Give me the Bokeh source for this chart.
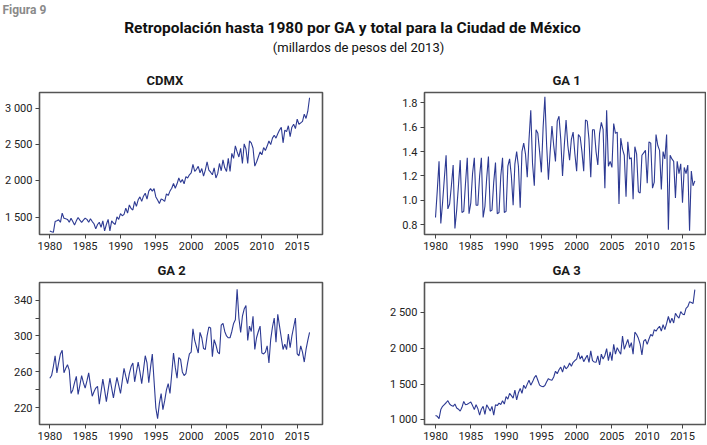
from bokeh.plotting import figure
from bokeh.layouts import column, row
from bokeh.models import Range1d, FixedTicker, Label
from bokeh.embed import file_html
from bokeh.resources import INLINE

# ---------------- data (quarterly, 1980Q1 .. 2016Q4) ----------------
quarters = [1980 + i / 4 for i in range(148)]

cdmx = [
    1311, 1300, 1292, 1440, 1450, 1464, 1430, 1556, 1486, 1478, 1470, 1430,
    1486, 1440, 1394, 1450, 1496, 1460, 1430, 1460, 1486, 1470, 1430, 1480,
    1440, 1410, 1339, 1400, 1430, 1360, 1450, 1312, 1400, 1470, 1312, 1450,
    1420, 1400, 1505, 1470, 1550, 1520, 1540, 1625, 1556, 1670, 1620, 1600,
    1718, 1650, 1740, 1780, 1718, 1790, 1830, 1750, 1860, 1894, 1860, 1894,
    1780, 1736, 1690, 1750, 1740, 1718, 1820, 1800, 1860, 1900, 1965, 1900,
    1960, 2040, 1980, 2020, 1960, 2060, 2040, 2085, 2111, 2228, 2130, 2160,
    2200, 2111, 2170, 2065, 2150, 2264, 2150, 2120, 2085, 2180, 2040, 2100,
    2240, 2140, 2290, 2180, 2130, 2310, 2130, 2380, 2310, 2482, 2400, 2330,
    2450, 2240, 2510, 2440, 2240, 2550, 2525, 2450, 2204, 2260, 2330, 2400,
    2360, 2460, 2420, 2480, 2550, 2500, 2590, 2630, 2590, 2650, 2700, 2740,
    2525, 2700, 2680, 2760, 2610, 2740, 2780, 2720, 2850, 2780, 2800, 2820,
    2920, 2860, 2960, 3145,
]

ga1 = [
    0.86, 1.08, 1.32, 0.81, 0.98, 1.18, 1.37, 0.93, 0.97, 1.12, 1.29, 0.77,
    0.92, 1.12, 1.33, 0.90, 0.91, 1.14, 1.35, 0.89, 0.98, 1.22, 1.35, 0.96,
    0.96, 1.20, 1.35, 0.86, 0.95, 1.18, 1.36, 0.91, 0.92, 1.15, 1.31, 0.89,
    0.90, 1.20, 1.35, 0.90, 0.91, 1.28, 1.34, 1.20, 0.96, 1.30, 1.40, 1.28,
    0.94, 1.40, 1.47, 1.38, 1.19, 1.50, 1.74, 1.30, 1.12, 1.58, 1.55, 1.40,
    1.23, 1.60, 1.85, 1.45, 1.17, 1.40, 1.61, 1.45, 1.32, 1.65, 1.69, 1.50,
    1.20, 1.45, 1.66, 1.45, 1.33, 1.50, 1.56, 1.38, 1.24, 1.54, 1.52, 1.40,
    1.24, 1.66, 1.65, 1.50, 1.19, 1.58, 1.58, 1.40, 1.29, 1.55, 1.64, 1.58,
    1.10, 1.74, 1.28, 1.32, 1.27, 1.63, 1.55, 1.56, 0.97, 1.51, 1.42, 1.37,
    1.03, 1.48, 1.34, 1.35, 1.01, 1.44, 1.38, 1.07, 1.06, 1.37, 1.39, 1.41,
    1.14, 1.48, 1.47, 1.10, 1.15, 1.54, 1.45, 1.41, 1.09, 1.40, 1.34, 1.54,
    0.76, 1.37, 1.34, 1.32, 1.02, 1.32, 1.22, 1.30, 0.98, 1.27, 1.22, 1.29,
    0.75, 1.24, 1.12, 1.16,
]

ga2 = [
    253, 256, 266, 278, 259, 270, 280, 284, 259, 264, 268, 262,
    236, 240, 248, 255, 235, 245, 256, 248, 242, 250, 259, 245,
    233, 238, 242, 244, 224, 238, 252, 240, 227, 240, 253, 242,
    231, 243, 254, 245, 236, 250, 264, 255, 247, 258, 266, 270,
    249, 260, 271, 260, 247, 262, 278, 270, 248, 265, 280, 250,
    220, 208, 225, 236, 218, 228, 240, 247, 236, 258, 281, 265,
    253, 276, 274, 260, 256, 258, 270, 280, 282, 308, 295, 288,
    281, 304, 298, 286, 285, 300, 310, 309, 277, 296, 290, 282,
    280, 312, 314, 305, 300, 298, 298, 305, 314, 318, 352, 320,
    304, 322, 330, 334, 295, 311, 305, 322, 285, 298, 305, 311,
    281, 280, 282, 289, 270, 296, 310, 320, 293, 324, 311, 298,
    285, 291, 285, 302, 287, 300, 310, 320, 280, 278, 289, 282,
    271, 285, 295, 304,
]

ga3 = [
    1062, 1050, 1017, 1145, 1190, 1215, 1240, 1268, 1222, 1200, 1190, 1222,
    1167, 1150, 1123, 1176, 1258, 1212, 1220, 1235, 1250, 1200, 1145, 1212,
    1158, 1067, 1150, 1190, 1076, 1212, 1170, 1123, 1190, 1067, 1212, 1200,
    1235, 1215, 1268, 1222, 1327, 1290, 1372, 1340, 1304, 1418, 1281, 1380,
    1440, 1372, 1486, 1440, 1500, 1554, 1486, 1532, 1590, 1623, 1554, 1486,
    1470, 1463, 1480, 1532, 1577, 1560, 1554, 1600, 1680, 1646, 1700, 1737,
    1668, 1760, 1714, 1740, 1796, 1750, 1805, 1830, 1850, 1944, 1850, 1896,
    1814, 1860, 1905, 1805, 1965, 1828, 1810, 1805, 1896, 1769, 1919, 1850,
    1900, 1996, 1828, 1950, 1828, 2056, 1919, 2010, 1960, 1919, 2171, 1987,
    2056, 2124, 2010, 2080, 1919, 2226, 2194, 2140, 2060, 1907, 2101, 2124,
    2056, 2130, 2194, 2171, 2262, 2240, 2280, 2308, 2240, 2331, 2262, 2350,
    2445, 2354, 2422, 2354, 2490, 2450, 2422, 2513, 2480, 2468, 2559, 2582,
    2650, 2640, 2627, 2820,
]

x_ticks = [1980, 1985, 1990, 1995, 2000, 2005, 2010, 2015]

cdmx_ticks = [1500, 2000, 2500, 3000]
cdmx_labels = ["1 500", "2 000", "2 500", "3 000"]
ga1_ticks = [0.8, 1.0, 1.2, 1.4, 1.6, 1.8]
ga1_labels = ["0.8", "1.0", "1.2", "1.4", "1.6", "1.8"]
ga2_ticks = [220, 260, 300, 340]
ga2_minor = [240, 280, 320]
ga2_labels = ["220", "260", "300", "340"]
ga3_ticks = [1000, 1500, 2000, 2500]
ga3_labels = ["1 000", "1 500", "2 000", "2 500"]

LINE = "#2d3a93"
FONT = "Roboto"


def panel(title, values, xr, yr, ticks, labels, minor, bl, fw, br, bt, fh, bb, toff):
    p = figure(
        title=title,
        frame_width=fw, frame_height=fh,
        min_border_left=bl, min_border_right=br,
        min_border_top=bt, min_border_bottom=bb,
        x_range=Range1d(*xr), y_range=Range1d(*yr),
        output_backend="svg", toolbar_location=None, tools="",
    )
    p.line(quarters, values, line_color=LINE, line_width=1.1)
    p.title.text_font = FONT
    p.title.text_font_style = "bold"
    p.title.text_font_size = "13px"
    p.title.text_color = "#1a1a1a"
    p.title.align = "left"
    p.title.offset = toff
    p.outline_line_color = "#555555"
    p.outline_line_width = 1.6
    p.outline_line_alpha = 1
    p.grid.visible = False
    p.background_fill_color = "white"
    p.border_fill_color = "white"

    xa = p.xaxis[0]
    xa.ticker = FixedTicker(ticks=x_ticks)
    xa.major_label_overrides = {t: str(t) for t in x_ticks}
    ya = p.yaxis[0]
    ya.ticker = FixedTicker(ticks=ticks, minor_ticks=minor)
    ya.major_label_overrides = dict(zip(ticks, labels))
    for ax in (xa, ya):
        ax.axis_line_color = None
        ax.major_tick_in = 0
        ax.major_tick_out = 4
        ax.major_tick_line_color = "#444444"
        ax.minor_tick_in = 0
        ax.minor_tick_out = 4 if minor else 0
        ax.minor_tick_line_color = "#444444" if minor else None
        ax.major_label_text_font = FONT
        ax.major_label_text_font_size = "11px"
        ax.major_label_text_color = "#222222"
        ax.major_label_standoff = 3
    xa.minor_tick_line_color = None
    return p


LEFT_X = (1978.54, 2018.58)
RIGHT_X = (1978.44, 2018.26)

p1 = panel("CDMX", cdmx, LEFT_X, (1262, 3218), cdmx_ticks, cdmx_labels, [],
           39, 283, 38, 32, 142, 20, 107)
p2 = panel("GA 1", ga1, RIGHT_X, (0.72, 1.885), ga1_ticks, ga1_labels, [],
           64, 281, 1, 32, 142, 20, 128)
p3 = panel("GA 2", ga2, LEFT_X, (201.5, 359.5), ga2_ticks, ga2_labels, ga2_minor,
           39, 283, 38, 28, 142, 20, 118)
p4 = panel("GA 3", ga3, RIGHT_X, (936, 2920), ga3_ticks, ga3_labels, [],
           64, 281, 1, 28, 142, 20, 128)

head = figure(
    title=None, width=706, height=60,
    x_range=Range1d(0, 706), y_range=Range1d(60, 0),
    x_axis_type=None, y_axis_type=None,
    min_border_left=0, min_border_right=0, min_border_top=0, min_border_bottom=0,
    output_backend="svg", toolbar_location=None, tools="",
)
head.outline_line_color = None
head.grid.visible = False
head.add_layout(Label(x=2, y=2, text="Figura 9", text_align="left", text_baseline="top",
                      text_font=FONT, text_font_style="bold", text_font_size="12px",
                      text_color="#8a8a8a"))
head.add_layout(Label(x=352, y=27, text="Retropolación hasta 1980 por GA y total para la Ciudad de México",
                      text_align="center", text_baseline="middle",
                      text_font=FONT, text_font_style="bold", text_font_size="15.5px",
                      text_color="#111111"))
head.add_layout(Label(x=358, y=47, text="(millardos de pesos del 2013)",
                      text_align="center", text_baseline="middle",
                      text_font=FONT, text_font_size="13px", text_color="#111111"))

layout = column(head, row(p1, p2), row(p3, p4))

open("out.html", "w").write(file_html(layout, INLINE))
